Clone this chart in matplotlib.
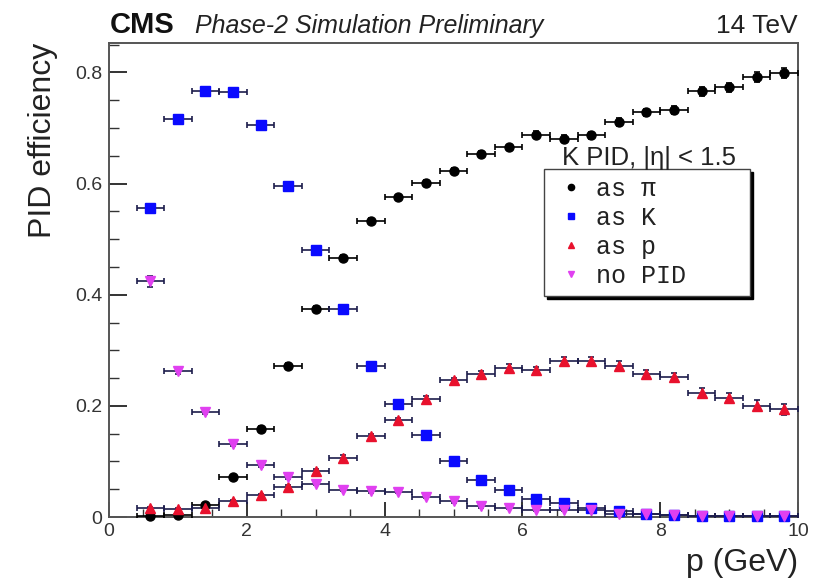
import matplotlib
matplotlib.use("Agg")
import matplotlib.pyplot as plt
from matplotlib.ticker import MultipleLocator, FixedLocator, FixedFormatter

plt.rcParams['font.family'] = ['Liberation Sans', 'DejaVu Sans']

# ---- data ----
p_center = [0.6, 1.0, 1.4, 1.8, 2.2, 2.6, 3.0, 3.4, 3.8, 4.2, 4.6, 5.0,
            5.4, 5.8, 6.2, 6.6, 7.0, 7.4, 7.8, 8.2, 8.6, 9.0, 9.4, 9.8]
bin_half_width = 0.2

eff_as_pi = [0.002, 0.004, 0.022, 0.072, 0.158, 0.272, 0.374, 0.466, 0.533, 0.575, 0.601, 0.623,
             0.654, 0.665, 0.688, 0.681, 0.687, 0.711, 0.728, 0.733, 0.766, 0.773, 0.792, 0.799]
err_as_pi = [0.002, 0.002, 0.003, 0.004, 0.005, 0.005, 0.005, 0.005, 0.005, 0.005, 0.005, 0.005,
             0.005, 0.005, 0.006, 0.006, 0.006, 0.007, 0.007, 0.007, 0.008, 0.008, 0.009, 0.009]

eff_as_K = [0.556, 0.716, 0.766, 0.765, 0.706, 0.596, 0.480, 0.374, 0.272, 0.203, 0.148, 0.100,
            0.067, 0.048, 0.032, 0.026, 0.017, 0.011, 0.006, 0.004, 0.002, 0.002, 0.002, 0.001]
err_as_K = [0.006, 0.005, 0.004, 0.004, 0.004, 0.005, 0.005, 0.005, 0.004, 0.004, 0.004, 0.003,
            0.003, 0.003, 0.003, 0.003, 0.002, 0.002, 0.002, 0.001, 0.001, 0.001, 0.001, 0.001]

eff_as_p = [0.016, 0.014, 0.016, 0.028, 0.039, 0.054, 0.082, 0.107, 0.146, 0.174, 0.212, 0.246,
            0.257, 0.269, 0.264, 0.281, 0.281, 0.272, 0.257, 0.252, 0.223, 0.214, 0.200, 0.194]
err_as_p = [0.002, 0.002, 0.002, 0.003, 0.003, 0.003, 0.004, 0.004, 0.004, 0.004, 0.005, 0.005,
            0.005, 0.006, 0.006, 0.007, 0.007, 0.008, 0.008, 0.008, 0.009, 0.009, 0.010, 0.010]

eff_no_pid = [0.424, 0.263, 0.189, 0.132, 0.093, 0.072, 0.060, 0.049, 0.046, 0.045, 0.036, 0.028,
              0.019, 0.016, 0.013, 0.012, 0.013, 0.006, 0.005, 0.004, 0.002, 0.002, 0.002, 0.002]
err_no_pid = [0.010, 0.006, 0.004, 0.004, 0.003, 0.003, 0.003, 0.002, 0.002, 0.002, 0.002, 0.002,
              0.002, 0.002, 0.002, 0.002, 0.002, 0.001, 0.001, 0.001, 0.001, 0.001, 0.001, 0.001]

series_labels = ["as \u03c0", "as K", "as p", "no PID"]

x_ticks = [0, 2, 4, 6, 8, 10]
x_ticklabels = ["0", "2", "4", "6", "8", "10"]
y_ticks = [0.0, 0.2, 0.4, 0.6, 0.8]
y_ticklabels = ["0", "0.2", "0.4", "0.6", "0.8"]

# ---- figure ----
W, H = 834, 583
fig = plt.figure(figsize=(W / 100, H / 100), dpi=100)
ax = fig.add_axes([109 / W, 1 - 517 / H, (798 - 109) / W, (517 - 43) / H])
ax.set_xlim(0, 10)
ax.set_ylim(0, 0.853)

ecol = '#1c1c4c'
styles = [
    (eff_as_pi, err_as_pi, 'o', '#000000', 6.5, '#000000'),
    (eff_as_K, err_as_K, 's', '#0a0aff', 6.5, ecol),
    (eff_as_p, err_as_p, '^', '#e8112d', 6.5, ecol),
    (eff_no_pid, err_no_pid, 'v', '#e040f0', 6.5, ecol),
]
handles = []
for (vals, errs, mk, col, ms, ec), lab in zip(styles, series_labels):
    cont = ax.errorbar(p_center, vals, xerr=bin_half_width, yerr=errs, fmt=mk,
                       color=col, ms=ms, mec=col, ecolor=ec, elinewidth=1.2,
                       capsize=2.5, capthick=1.2, zorder=3)
    cont[0].set_clip_on(False)
    h, = ax.plot([], [], mk, color=col, ms=4.5, mec=col, label=lab)
    handles.append(h)

# ticks (ROOT style, inward)
ax.xaxis.set_major_locator(FixedLocator(x_ticks))
ax.xaxis.set_major_formatter(FixedFormatter(x_ticklabels))
ax.xaxis.set_minor_locator(MultipleLocator(0.5))
ax.yaxis.set_major_locator(FixedLocator(y_ticks))
ax.yaxis.set_major_formatter(FixedFormatter(y_ticklabels))
ax.yaxis.set_minor_locator(MultipleLocator(0.05))
ax.tick_params(axis='both', which='both', direction='in', colors='#333333',
               labelcolor='#333333', labelsize=14, top=False, right=False)
ax.tick_params(axis='y', which='major', length=13, width=1.4, pad=5)
ax.tick_params(axis='y', which='minor', length=7, width=1.0)
ax.tick_params(axis='x', which='major', length=11, width=1.4, pad=4)
ax.tick_params(axis='x', which='minor', length=6, width=1.0)
for sp in ax.spines.values():
    sp.set_color('#555555')
    sp.set_linewidth(1.4)

ax.set_xlabel("p (GeV)", fontsize=23, loc='right', color='#222222', labelpad=6)
ax.set_ylabel("PID efficiency", fontsize=23, loc='top', color='#222222', labelpad=12)

# header
fig.text(110 / W, 1 - 33 / H, "CMS", fontsize=21, fontweight='bold', ha='left', va='baseline', color='#111111')
fig.text(195 / W, 1 - 33 / H, "Phase-2 Simulation Preliminary", fontsize=18, fontstyle='italic',
         ha='left', va='baseline', color='#222222')
fig.text(798 / W, 1 - 33 / H, "14 TeV", fontsize=19, ha='right', va='baseline', color='#222222')

# legend
fig.text(562 / W, 1 - 165 / H, "K PID, |\u03b7| < 1.5", fontsize=18.5, ha='left', va='baseline', color='#222222')
leg = ax.legend(handles=handles, loc='upper left', mode='expand',
                bbox_to_anchor=(544 / W, 1 - 175 / H, (750 - 544) / W, 0.01),
                bbox_transform=fig.transFigure, borderaxespad=0,
                prop={'family': 'Liberation Mono', 'size': 18}, labelcolor='#222222',
                frameon=True, fancybox=False, shadow={'color': 'black', 'alpha': 1.0},
                edgecolor='#444444', framealpha=1.0, handlelength=1.55, handletextpad=0.2,
                labelspacing=0.2, borderpad=0.32, markerscale=1.0)
leg.get_frame().set_linewidth(1.0)

fig.savefig("out.png", dpi=100)
